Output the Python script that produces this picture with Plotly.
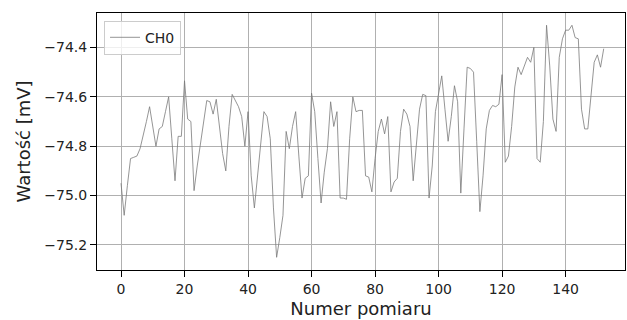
import plotly.graph_objects as go

indices = list(range(153))
ch0_values = [
    -74.95, -75.08, -74.96, -74.85, -74.845, -74.84, -74.81, -74.76, -74.70, -74.64,
    -74.72, -74.80, -74.73, -74.72, -74.66, -74.60, -74.77, -74.94, -74.76, -74.76,
    -74.535, -74.69, -74.70, -74.98, -74.88, -74.79, -74.69, -74.615, -74.62, -74.67,
    -74.61, -74.73, -74.83, -74.90, -74.72, -74.59, -74.615, -74.64, -74.68, -74.80,
    -74.66, -74.92, -75.05, -74.92, -74.79, -74.66, -74.68, -74.77, -75.05, -75.25,
    -75.17, -75.08, -74.74, -74.81, -74.72, -74.66, -74.84, -75.01, -74.93, -74.92,
    -74.585, -74.66, -74.85, -75.03, -74.905, -74.81, -74.62, -74.72, -74.66, -75.01,
    -75.01, -75.015, -74.77, -74.60, -74.66, -74.655, -74.655, -74.92, -74.925, -74.985,
    -74.85, -74.74, -74.69, -74.75, -74.68, -74.985, -74.945, -74.93, -74.74, -74.65,
    -74.67, -74.72, -74.94, -74.80, -74.65, -74.59, -74.595, -75.01, -74.88, -74.66,
    -74.59, -74.515, -74.65, -74.78, -74.68, -74.555, -74.62, -74.99, -74.73, -74.48,
    -74.485, -74.50, -74.78, -75.065, -74.92, -74.73, -74.655, -74.635, -74.64, -74.63,
    -74.51, -74.865, -74.84, -74.72, -74.56, -74.48, -74.51, -74.47, -74.44, -74.46,
    -74.40, -74.85, -74.865, -74.70, -74.31, -74.475, -74.69, -74.74, -74.44, -74.365,
    -74.33, -74.33, -74.31, -74.36, -74.365, -74.65, -74.73, -74.73, -74.595, -74.46,
    -74.43, -74.48, -74.405,
]
series_name = "CH0"
x_title = "Numer pomiaru"
y_title = "Wartość [mV]"
x_tickvals = [0, 20, 40, 60, 80, 100, 120, 140]
y_tickvals = [-75.2, -75.0, -74.8, -74.6, -74.4]

font_family = "DejaVu Sans"

fig = go.Figure()
fig.add_trace(go.Scatter(
    x=indices, y=ch0_values, mode="lines", name=series_name,
    line=dict(color="#7a7a7a", width=0.8),
    showlegend=True,
))

axis_common = dict(
    showgrid=True, gridcolor="#b0b0b0", gridwidth=0.8,
    showline=True, linecolor="black", linewidth=1, mirror=True,
    ticks="outside", ticklen=6, tickcolor="black", tickwidth=1,
    tickfont=dict(family=font_family, size=14, color="#222222"),
    zeroline=False,
)

fig.update_layout(
    width=627, height=320,
    margin=dict(l=97, r=2, t=13, b=50),
    paper_bgcolor="white", plot_bgcolor="white",
    font=dict(family=font_family, color="#222222"),
    xaxis=dict(
        range=[-7.56, 158.7], tickmode="array", tickvals=x_tickvals,
        ticktext=[str(v) for v in x_tickvals],
        title=dict(text=x_title, font=dict(size=18, family=font_family, color="#222222"), standoff=6),
        **axis_common,
    ),
    yaxis=dict(
        range=[-75.3014, -74.2604], tickmode="array", tickvals=y_tickvals,
        ticktext=[f"\u2212{abs(v):.1f}" for v in y_tickvals],
        title=dict(text=y_title, font=dict(size=18, family=font_family, color="#222222"), standoff=8),
        **axis_common,
    ),
    legend=dict(
        x=0.0133, y=0.97, xanchor="left", yanchor="top",
        bgcolor="rgba(255,255,255,0.8)", bordercolor="#cccccc", borderwidth=1,
        font=dict(family=font_family, size=14, color="#222222"),
        itemwidth=30,
    ),
)

fig.write_html("out.html")
